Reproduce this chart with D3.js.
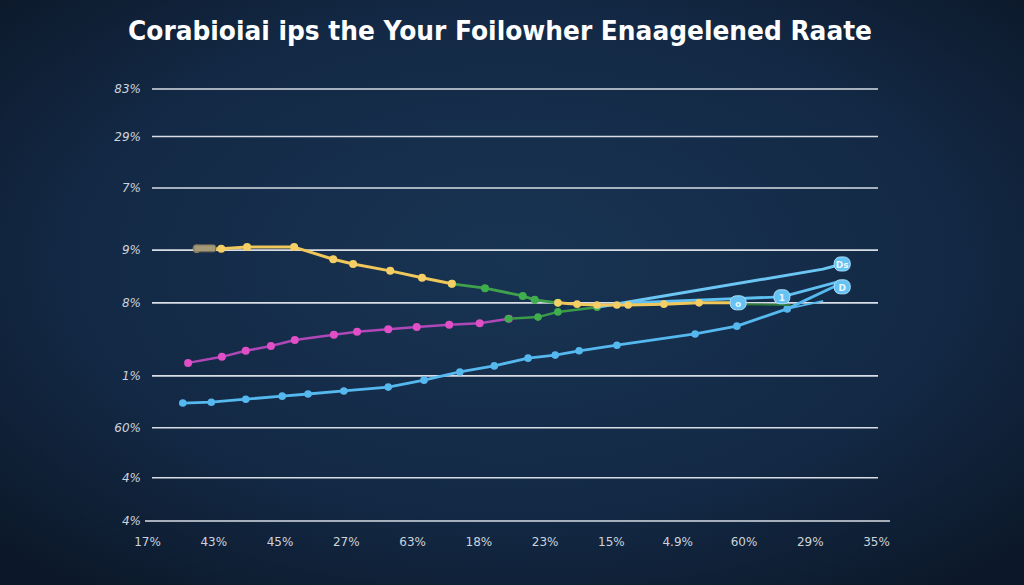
<!DOCTYPE html>
<html>
<head>
<meta charset="utf-8">
<script src="https://cdn.jsdelivr.net/npm/d3@7"></script>
<style>
html,body{margin:0;padding:0;background:#0f1f35;}
svg{display:block;}
</style>
</head>
<body>
<svg id="chart" width="1024" height="585"></svg>
<script>
// ---------- DATA ----------
const titleText = "Corabioiai ips the Your Foilowher Enaagelened Raate";
const xTickLabels = ["17%","43%","45%","27%","63%","18%","23%","15%","4.9%","60%","29%","35%"];
const yTickValues = [0, 10, 21.6, 33.6, 50.5, 62.7, 77.1, 89, 100];
const yTickLabels = ["4%","4%","60%","1%","8%","9%","7%","29%","83%"];

// series: [xIndex, value]
const goldA = [[0.75,63.0],[1.12,63.0],[1.51,63.4],[2.22,63.4],[2.81,60.6],[3.11,59.5],[3.67,57.9],[4.15,56.3],[4.60,54.9]];
const greenB = [[4.60,54.9],[5.10,53.9],[5.67,52.1],[5.85,51.2],[6.20,50.5]];
const goldC = [[6.20,50.5],[6.49,50.2],[6.79,50.0],[7.09,50.0],[7.26,50.0],[7.80,50.2],[8.33,50.5],[8.92,50.5]];
const greenD = [[5.45,46.8],[5.90,47.2],[6.20,48.4],[6.79,49.5]];
const greenTail = [[8.92,50.2],[9.70,50.0]];
const magenta = [[0.62,36.6],[1.13,38.0],[1.49,39.4],[1.87,40.5],[2.23,41.9],[2.82,43.1],[3.17,43.8],[3.64,44.4],[4.07,44.9],[4.56,45.4],[5.02,45.8],[5.46,46.8]];
const blueLower = [[0.54,27.3],[0.97,27.5],[1.49,28.2],[2.04,28.9],[2.43,29.4],[2.97,30.1],[3.64,31.0],[4.18,32.6],[4.72,34.5],[5.24,35.9],[5.75,37.7],[6.16,38.4],[6.52,39.4],[7.09,40.7],[8.27,43.3],[8.90,45.1],[9.66,49.1],[10.46,54.9]];
const blueUpper = [[6.79,49.5],[7.26,50.7],[10.20,58.3],[10.49,59.5]];
const blueMid = [[7.26,50.5],[9.58,51.9],[10.41,55.3]];
const blueThin = [[9.66,49.1],[10.19,50.9]];
const badges = [{x:10.49,y:59.5,t:"Ds"},{x:10.49,y:54.2,t:"D"},{x:9.58,y:51.9,t:"1"},{x:8.92,y:50.5,t:"o"}];
const startTag = {x:0.75,y:63.0};

// ---------- CHART ----------
const W = 1024, H = 585;
const svg = d3.select("#chart");
const defs = svg.append("defs");
const grad = defs.append("radialGradient").attr("id","bg").attr("cx","50%").attr("cy","45%").attr("r","70%");
grad.append("stop").attr("offset","0%").attr("stop-color","#183453");
grad.append("stop").attr("offset","60%").attr("stop-color","#132945");
grad.append("stop").attr("offset","100%").attr("stop-color","#0c1829");
svg.append("rect").attr("width",W).attr("height",H).attr("fill","url(#bg)");

const x = d3.scaleLinear().domain([0, xTickLabels.length-1]).range([147, 876]);
const y = d3.scaleLinear().domain([0, 100]).range([521, 89]);

// title
svg.append("text").attr("x",500).attr("y",40).attr("text-anchor","middle")
  .attr("font-family","'DejaVu Sans', sans-serif").attr("font-weight","bold")
  .attr("font-size",26).attr("fill","#ffffff")
  .attr("textLength",744).attr("lengthAdjust","spacingAndGlyphs")
  .text(titleText);

// grid
const grid = svg.append("g");
yTickValues.forEach((v,i)=>{
  grid.append("line")
    .attr("x1", i===0 ? 145 : 152).attr("x2", i===0 ? 890 : 878)
    .attr("y1", y(v)).attr("y2", y(v))
    .attr("stroke","#d9dee6").attr("stroke-width",1.6);
  grid.append("text").attr("x",141).attr("y",y(v)+4).attr("text-anchor","end")
    .attr("font-family","'DejaVu Sans', sans-serif").attr("font-size",12)
    .attr("font-style","italic")
    .attr("fill","#cdd3dc").text(yTickLabels[i]);
});

// x labels
const xAxis = d3.axisBottom(x).tickValues(d3.range(xTickLabels.length)).tickFormat(i=>xTickLabels[i]).tickSize(0);
const gx = svg.append("g").attr("transform","translate(0,534)").call(xAxis);
gx.select(".domain").remove();
gx.selectAll("text").attr("font-family","'DejaVu Sans', sans-serif").attr("font-size",12).attr("fill","#cdd3dc");

const line = d3.line().x(d=>x(d[0])).y(d=>y(d[1]));

function drawSeries(data, stroke, width, dot, r, dotFill){
  svg.append("path").datum(data).attr("d",line).attr("fill","none")
    .attr("stroke",stroke).attr("stroke-width",width).attr("stroke-linejoin","round").attr("stroke-linecap","round");
  if(dot){
    svg.append("g").selectAll("circle").data(data).join("circle")
      .attr("cx",d=>x(d[0])).attr("cy",d=>y(d[1])).attr("r",r).attr("fill",dotFill||stroke);
  }
}

drawSeries(blueLower, "#55b8ee", 2.8, true, 3.8);
drawSeries(magenta, "#b047b8", 2.5, true, 4, "#e14fc6");
drawSeries(greenD, "#3b9a48", 2.5, true, 3.8, "#3fae4c");
drawSeries(greenTail, "#2f7a3b", 2, false);
drawSeries(blueThin, "#55b8ee", 2, false);
drawSeries(blueMid, "#5fc0f2", 2.8, false);
drawSeries(blueUpper, "#6cc6f4", 3, false);
drawSeries(greenB, "#3fa14c", 2.8, true, 4, "#3fae4c");
drawSeries(goldA, "#f0c75a", 3, true, 4, "#f5cf66");
drawSeries(goldC, "#f0c75a", 3, true, 3.8, "#f5cf66");

// start tag
svg.append("rect").attr("x",x(startTag.x)-3).attr("y",y(startTag.y)-4).attr("width",22).attr("height",7)
  .attr("rx",2).attr("fill","#a59a78").attr("stroke","#6b6552");

// badges
const bg = svg.append("g").selectAll("g").data(badges).join("g")
  .attr("transform",d=>`translate(${x(d.x)},${y(d.y)})`);
bg.append("rect").attr("x",-8).attr("y",-7).attr("width",16).attr("height",14).attr("rx",6)
  .attr("fill","#66c2f2").attr("stroke","#a9e0fb").attr("stroke-width",1);
bg.append("text").attr("text-anchor","middle").attr("y",4).attr("font-family","'DejaVu Sans', sans-serif")
  .attr("font-size",9).attr("font-weight","bold").attr("fill","#e8f6ff").text(d=>d.t);
</script>
</body>
</html>
